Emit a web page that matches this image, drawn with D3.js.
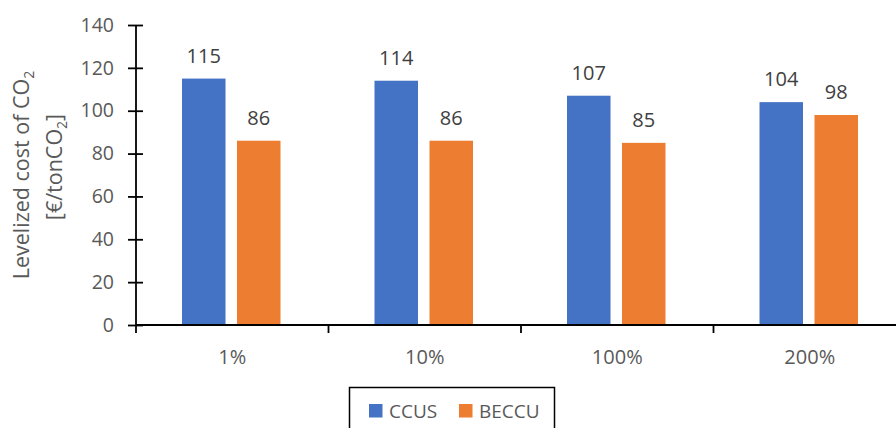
<!DOCTYPE html>
<html>
<head>
<meta charset="utf-8">
<script src="https://cdn.jsdelivr.net/npm/d3@7"></script>
<style>
  html, body { margin: 0; padding: 0; background: #fff; }
  svg { display: block; font-family: "Open Sans", "Noto Sans", sans-serif; }
</style>
</head>
<body>
<svg id="chart" width="896" height="428"></svg>
<script>
// Levelized cost of CO2 per scenario
const categories = ["1%", "10%", "100%", "200%"];
const seriesNames = ["CCUS", "BECCU"];
const ccus = [115, 114, 107, 104];
const beccu = [86, 86, 85, 98];
const yTicks = [0, 20, 40, 60, 80, 100, 120, 140];
const colors = ["#4472C4", "#ED7D31"];

const FONT = "'Open Sans', 'Noto Sans', sans-serif";
const svg = d3.select("#chart");
const plotLeft = 136, plotRight = 906, plotTop = 25, plotBottom = 325;

const x0 = d3.scaleBand().domain(categories).range([plotLeft, plotRight]).padding(0);
const x1 = d3.scaleBand().domain(seriesNames).range([46, 144.5]).paddingInner(0.209).paddingOuter(0);
const y = d3.scaleLinear().domain([0, 140]).range([plotBottom, plotTop]);

const rows = categories.map((c, i) => ({ cat: c, values: [ccus[i], beccu[i]] }));

// bars
const groups = svg.append("g").selectAll("g").data(rows).join("g")
  .attr("transform", d => `translate(${x0(d.cat)},0)`);

groups.selectAll("rect").data(d => d.values.map((v, k) => ({ s: seriesNames[k], v, k })))
  .join("rect")
  .attr("x", d => x1(d.s))
  .attr("width", x1.bandwidth())
  .attr("y", d => y(d.v))
  .attr("height", d => y(0) - y(d.v))
  .attr("fill", d => colors[d.k]);

// value labels
groups.selectAll("text.val").data(d => d.values.map((v, k) => ({ s: seriesNames[k], v, k })))
  .join("text")
  .attr("class", "val")
  .attr("x", d => x1(d.s) + x1.bandwidth() / 2)
  .attr("y", d => y(d.v) - 16)
  .attr("text-anchor", "middle")
  .attr("font-size", 20)
  .attr("fill", "#404040")
  .text(d => d.v);

// y axis
const yAxis = svg.append("g")
  .attr("transform", `translate(${plotLeft},0)`)
  .call(d3.axisLeft(y).tickValues(yTicks).tickSize(0).tickPadding(0));
yAxis.select(".domain").remove();
yAxis.selectAll(".tick line")
  .attr("x1", -8).attr("x2", 7)
  .attr("stroke", "#000").attr("stroke-width", 1.8);
yAxis.selectAll(".tick text")
  .attr("x", -22)
  .attr("font-size", 19.5)
  .attr("fill", "#595959")
  .attr("font-family", FONT);
svg.append("line")
  .attr("x1", plotLeft).attr("x2", plotLeft)
  .attr("y1", plotTop).attr("y2", plotBottom + 8)
  .attr("stroke", "#000").attr("stroke-width", 1.8);

// x axis
const xAxis = svg.append("g")
  .attr("transform", `translate(0,${plotBottom})`)
  .call(d3.axisBottom(x0).tickSize(0).tickPadding(0));
xAxis.select(".domain").remove();
xAxis.selectAll(".tick text")
  .attr("y", 39)
  .attr("dy", 0)
  .attr("font-size", 20)
  .attr("fill", "#595959")
  .attr("font-family", FONT);
svg.append("line")
  .attr("x1", plotLeft).attr("x2", 896)
  .attr("y1", plotBottom).attr("y2", plotBottom)
  .attr("stroke", "#000").attr("stroke-width", 1.8);
svg.append("g").selectAll("line").data(categories.slice(1))
  .join("line")
  .attr("x1", d => x0(d)).attr("x2", d => x0(d))
  .attr("y1", plotBottom).attr("y2", plotBottom + 8)
  .attr("stroke", "#000").attr("stroke-width", 1.8);

// y axis title (two lines, rotated)
const title = svg.append("text")
  .attr("transform", `translate(0,${(plotTop + plotBottom) / 2}) rotate(-90)`)
  .attr("text-anchor", "middle")
  .attr("font-size", 21.5)
  .attr("fill", "#595959");
const l1 = title.append("tspan").attr("x", 0).attr("y", 29);
l1.append("tspan").text("Levelized cost of CO");
l1.append("tspan").attr("font-size", 14).attr("dy", 5).text("2");
const l2 = title.append("tspan").attr("x", 8).attr("y", 62);
l2.append("tspan").text("[€/tonCO");
l2.append("tspan").attr("font-size", 14).attr("dy", 5).text("2");
l2.append("tspan").attr("dy", -5).text("]");

// legend
const legend = svg.append("g");
legend.append("rect")
  .attr("x", 349.5).attr("y", 387.5)
  .attr("width", 205).attr("height", 60)
  .attr("fill", "#fff").attr("stroke", "#000").attr("stroke-width", 1.5);
const legendX = [369, 459];
const items = legend.selectAll("g.item").data(seriesNames).join("g")
  .attr("class", "item")
  .attr("transform", (d, i) => `translate(${legendX[i]},404)`);
items.append("rect").attr("width", 13.5).attr("height", 13.5).attr("fill", (d, i) => colors[i]);
items.append("text")
  .attr("x", 20).attr("y", 13.5)
  .attr("font-size", 19)
  .attr("fill", "#595959")
  .text(d => d);
</script>
</body>
</html>
